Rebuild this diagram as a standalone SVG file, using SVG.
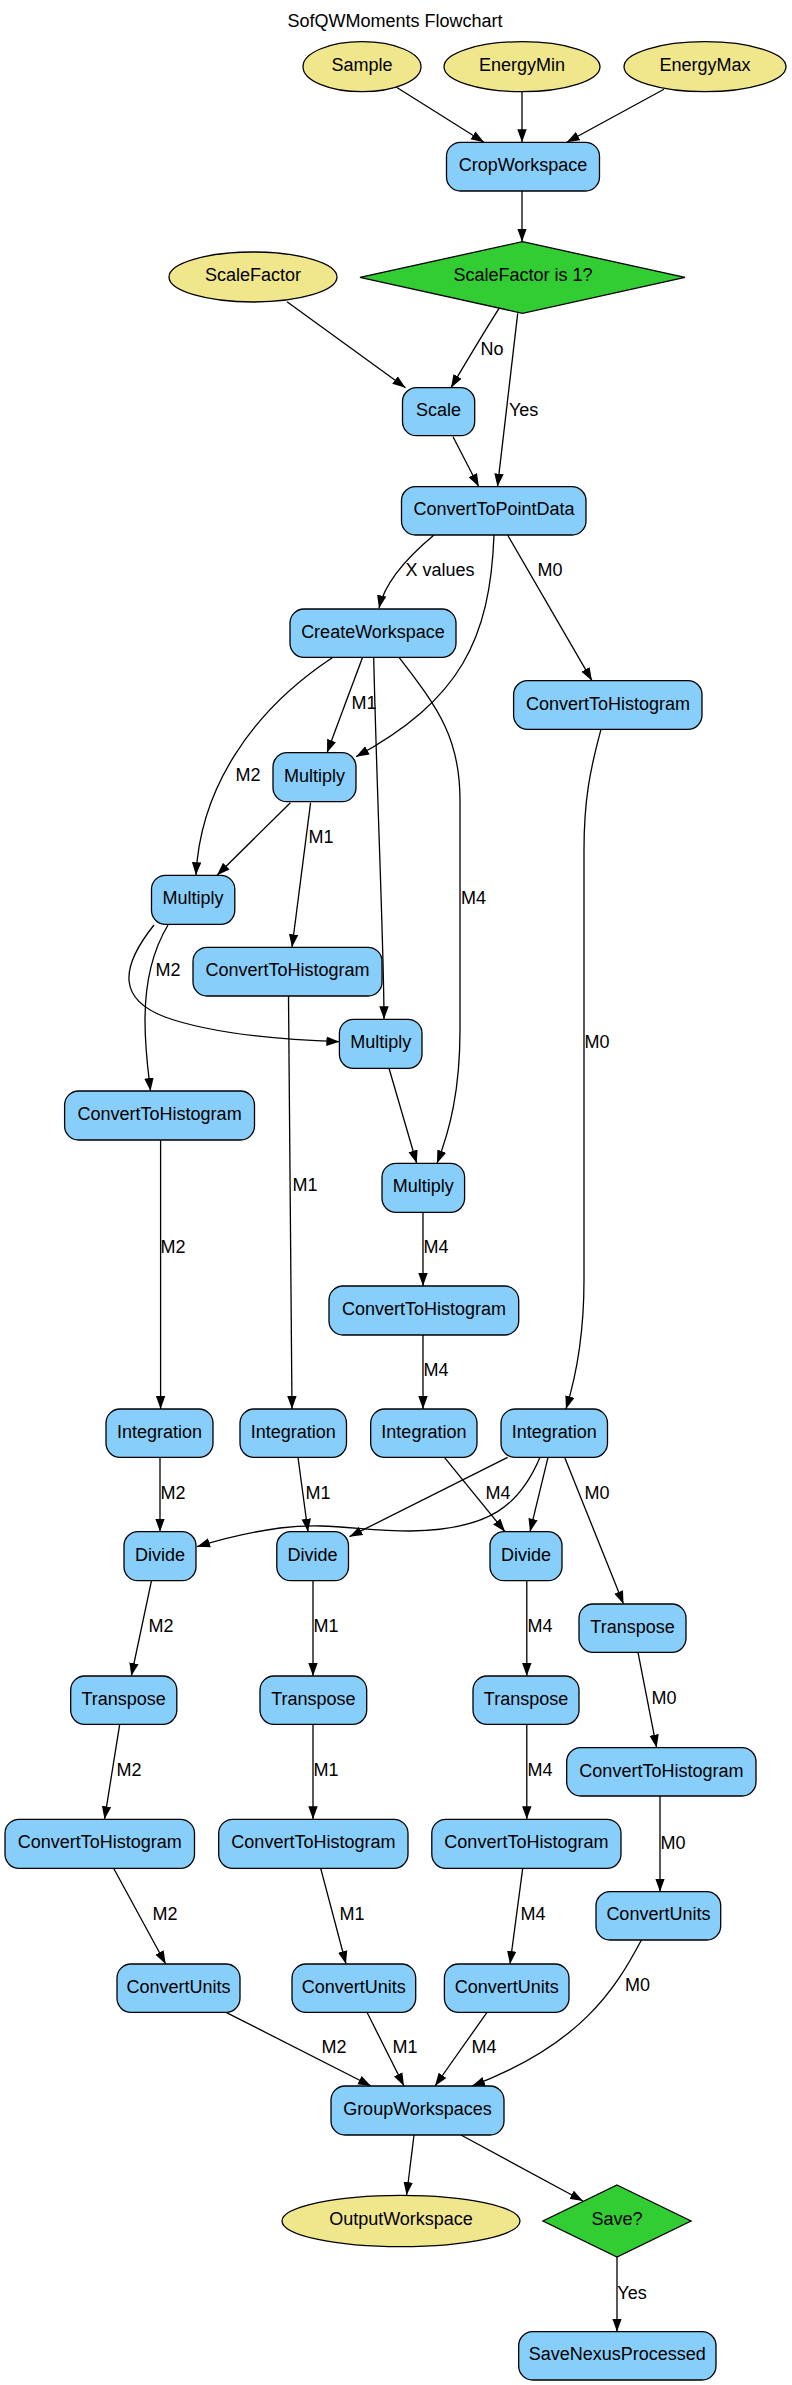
<svg xmlns="http://www.w3.org/2000/svg" width="792" height="2385" viewBox="0 0 792 2385">
<defs>
<marker id="ah" markerUnits="userSpaceOnUse" markerWidth="14" markerHeight="10" refX="13" refY="5" orient="auto"><path d="M0,0.3 L13,5 L0,9.7 Z" fill="#000"/></marker>
<style>
.box{fill:#87CEFA;stroke:#000;stroke-width:1.3}
.ell{fill:#F0E68C;stroke:#000;stroke-width:1.3}
.dia{fill:#32CD32;stroke:#000;stroke-width:1.3}
text{font-family:"Liberation Sans",Arial,sans-serif;font-size:18px;fill:#000}
.t{text-anchor:middle}
.l{text-anchor:middle}
.e{fill:none;stroke:#000;stroke-width:1.3;marker-end:url(#ah)}
</style>
</defs>
<rect width="792" height="2385" fill="#fff"/>
<text class="t" x="395" y="27">SofQWMoments Flowchart</text>

<g id="connectors">
<path class="e" d="M396.5,87.3 L484,142.3"/>
<path class="e" d="M522,92 L522,142.3"/>
<path class="e" d="M664,89.3 L566.7,142.3"/>
<path class="e" d="M522,191 L522,241.7"/>
<path class="e" d="M287,301.7 L405.5,387.7"/>
<path class="e" d="M499,308.3 Q476,345 451,387.7"/>
<path class="e" d="M517.7,313.3 L497.5,486.7"/>
<path class="e" d="M453,436.7 L478.8,486.7"/>
<path class="e" d="M434,535 C410,555 385,580 379,608.3"/>
<path class="e" d="M494,535 C490,640 460,700 356,756.7"/>
<path class="e" d="M507.6,535 L592,680.7"/>
<path class="e" d="M333,657.3 C250,712 200,790 196,875.3"/>
<path class="e" d="M362.6,657.3 L327,752.7"/>
<path class="e" d="M373.7,657.3 C377,800 384,950 384,1019.3"/>
<path class="e" d="M399,657.3 C440,710 460,740 460,800 L460,1030 C460,1090 450,1130 437,1163.3"/>
<path class="e" d="M601,729.3 C590,770 584,800 584,850 L584,1280 C584,1340 575,1380 566,1409"/>
<path class="e" d="M290.4,802.7 L217,875.3"/>
<path class="e" d="M310.6,802.7 L292,947.3"/>
<path class="e" d="M154,925 C118,970 120,1000 165,1017 C215,1035 290,1040 339.4,1041.7"/>
<path class="e" d="M168,925 C150,955 145,990 145,1020 C145,1050 148,1070 150.5,1091"/>
<path class="e" d="M288.5,996 L292,1409"/>
<path class="e" d="M389,1068.3 L416.7,1163.3"/>
<path class="e" d="M160.6,1140 L160.6,1409"/>
<path class="e" d="M423,1212.3 L423,1286"/>
<path class="e" d="M423,1335 L423,1409"/>
<path class="e" d="M160,1457.3 L160,1531.7"/>
<path class="e" d="M298,1457.3 L308,1531.7"/>
<path class="e" d="M444.4,1457.3 L505,1531.7"/>
<path class="e" d="M507.6,1457.3 L349.5,1536.7"/>
<path class="e" d="M540,1457.3 C520,1505 490,1530 410,1531 C360,1531 330,1522 280,1528 C250,1532 225,1538 197,1546.7"/>
<path class="e" d="M548,1457.3 L530,1531.7"/>
<path class="e" d="M564.6,1457.3 L623.5,1604"/>
<path class="e" d="M151.5,1580.7 L131.3,1676"/>
<path class="e" d="M313,1580.7 L313,1676"/>
<path class="e" d="M526.8,1580.7 L526.8,1676"/>
<path class="e" d="M638,1652.3 L656.6,1747.7"/>
<path class="e" d="M119.7,1724.3 L104.5,1819.3"/>
<path class="e" d="M313,1724.3 L313,1819.3"/>
<path class="e" d="M526.8,1724.3 L526.8,1819.3"/>
<path class="e" d="M660,1796 L660,1891.7"/>
<path class="e" d="M113.6,1868.3 L165.7,1964"/>
<path class="e" d="M320.7,1868.3 L346,1964"/>
<path class="e" d="M522.7,1868.3 L510,1964"/>
<path class="e" d="M641.4,1940 C615,1990 580,2045 472,2086"/>
<path class="e" d="M226,2012.3 L371,2086"/>
<path class="e" d="M367,2012.3 L404,2086"/>
<path class="e" d="M487,2012.3 L435,2086"/>
<path class="e" d="M414,2135 L406.6,2195"/>
<path class="e" d="M461,2135 L583,2201"/>
<path class="e" d="M617,2257 L617,2331.7"/>
<g id="edge-labels">
<text class="l" x="492" y="355">No</text>
<text x="509" y="416">Yes</text>
<text class="l" x="440" y="576">X values</text>
<text class="l" x="550" y="576">M0</text>
<text class="l" x="248" y="781">M2</text>
<text class="l" x="364" y="709">M1</text>
<text x="461" y="904">M4</text>
<text class="l" x="597" y="1048">M0</text>
<text class="l" x="321" y="843">M1</text>
<text class="l" x="168" y="976">M2</text>
<text class="l" x="305" y="1191">M1</text>
<text class="l" x="173" y="1253">M2</text>
<text class="l" x="436" y="1253">M4</text>
<text class="l" x="436" y="1376">M4</text>
<text class="l" x="173" y="1499">M2</text>
<text class="l" x="318" y="1499">M1</text>
<text class="l" x="498" y="1499">M4</text>
<text class="l" x="597" y="1499">M0</text>
<text class="l" x="161" y="1632">M2</text>
<text class="l" x="326" y="1632">M1</text>
<text class="l" x="540" y="1632">M4</text>
<text class="l" x="664" y="1704">M0</text>
<text class="l" x="129" y="1776">M2</text>
<text class="l" x="326" y="1776">M1</text>
<text class="l" x="540" y="1776">M4</text>
<text class="l" x="673" y="1849">M0</text>
<text class="l" x="165" y="1920">M2</text>
<text class="l" x="352" y="1920">M1</text>
<text class="l" x="533" y="1920">M4</text>
<text class="l" x="637.5" y="1991">M0</text>
<text class="l" x="334" y="2053">M2</text>
<text class="l" x="405" y="2053">M1</text>
<text class="l" x="484" y="2053">M4</text>
<text class="l" x="632" y="2299">Yes</text>
</g>
</g>

<g id="Sample"><ellipse class="ell" cx="362" cy="66.7" rx="59" ry="25"/><text class="t" x="362" y="71">Sample</text></g>
<g id="EnergyMin"><ellipse class="ell" cx="522" cy="66.7" rx="78" ry="25"/><text class="t" x="522" y="71">EnergyMin</text></g>
<g id="EnergyMax"><ellipse class="ell" cx="705" cy="66.7" rx="81" ry="25"/><text class="t" x="705" y="71">EnergyMax</text></g>
<g id="CropWorkspace"><rect class="box" x="446.5" y="142.3" width="153" height="48.7" rx="14"/><text class="t" x="523" y="171">CropWorkspace</text></g>
<g id="ScaleFactorIs1"><polygon class="dia" points="522.5,241.7 685,277.3 522.5,313.3 360,277.3"/><text class="t" x="523" y="281">ScaleFactor is 1?</text></g>
<g id="ScaleFactor"><ellipse class="ell" cx="253" cy="277" rx="84" ry="25"/><text class="t" x="253" y="281">ScaleFactor</text></g>
<g id="Scale"><rect class="box" x="402.5" y="387.7" width="72.2" height="48" rx="14"/><text class="t" x="438.6" y="416">Scale</text></g>
<g id="ConvertToPointData"><rect class="box" x="401.5" y="486.7" width="184.5" height="48.3" rx="14"/><text class="t" x="494" y="515">ConvertToPointData</text></g>
<g id="CreateWorkspace"><rect class="box" x="290" y="609" width="166" height="48.3" rx="14"/><text class="t" x="373" y="637.5">CreateWorkspace</text></g>
<g id="ConvertToHistogram_M0a"><rect class="box" x="513.6" y="680.7" width="188.4" height="48.6" rx="14"/><text class="t" x="608" y="709.5">ConvertToHistogram</text></g>
<g id="Multiply1"><rect class="box" x="273" y="752.7" width="83" height="49" rx="14"/><text class="t" x="314.5" y="781.5">Multiply</text></g>
<g id="Multiply2"><rect class="box" x="151.5" y="875.3" width="83.3" height="49" rx="14"/><text class="t" x="193" y="904">Multiply</text></g>
<g id="ConvertToHistogram_M1a"><rect class="box" x="193" y="947.3" width="189" height="48.7" rx="14"/><text class="t" x="287.5" y="976">ConvertToHistogram</text></g>
<g id="Multiply3"><rect class="box" x="339.4" y="1019.3" width="82.6" height="49" rx="14"/><text class="t" x="380.7" y="1048">Multiply</text></g>
<g id="ConvertToHistogram_M2a"><rect class="box" x="64.6" y="1091" width="189.9" height="49" rx="14"/><text class="t" x="159.6" y="1120">ConvertToHistogram</text></g>
<g id="Multiply4"><rect class="box" x="382" y="1163.3" width="82.6" height="49" rx="14"/><text class="t" x="423.3" y="1192">Multiply</text></g>
<g id="ConvertToHistogram_M4a"><rect class="box" x="329" y="1286" width="189.7" height="49" rx="14"/><text class="t" x="424" y="1315">ConvertToHistogram</text></g>
<g id="Integration1"><rect class="box" x="106" y="1409" width="107" height="48.3" rx="14"/><text class="t" x="159.5" y="1437.5">Integration</text></g>
<g id="Integration2"><rect class="box" x="240" y="1409" width="106.5" height="48.3" rx="14"/><text class="t" x="293.2" y="1437.5">Integration</text></g>
<g id="Integration3"><rect class="box" x="370.7" y="1409" width="106.3" height="48.3" rx="14"/><text class="t" x="423.9" y="1437.5">Integration</text></g>
<g id="Integration4"><rect class="box" x="501" y="1409" width="106.5" height="48.3" rx="14"/><text class="t" x="554.2" y="1437.5">Integration</text></g>
<g id="Divide1"><rect class="box" x="124" y="1531.7" width="72" height="49" rx="14"/><text class="t" x="160" y="1560.5">Divide</text></g>
<g id="Divide2"><rect class="box" x="276.8" y="1531.7" width="71.7" height="49" rx="14"/><text class="t" x="312.6" y="1560.5">Divide</text></g>
<g id="Divide3"><rect class="box" x="490" y="1531.7" width="72" height="49" rx="14"/><text class="t" x="526" y="1560.5">Divide</text></g>
<g id="Transpose4"><rect class="box" x="579" y="1604" width="107" height="48.3" rx="14"/><text class="t" x="632.5" y="1632.5">Transpose</text></g>
<g id="Transpose1"><rect class="box" x="70.7" y="1676" width="106.1" height="48.3" rx="14"/><text class="t" x="123.7" y="1704.5">Transpose</text></g>
<g id="Transpose2"><rect class="box" x="260" y="1676" width="106.7" height="48.3" rx="14"/><text class="t" x="313.4" y="1704.5">Transpose</text></g>
<g id="Transpose3"><rect class="box" x="473" y="1676" width="106" height="48.3" rx="14"/><text class="t" x="526" y="1704.5">Transpose</text></g>
<g id="ConvertToHistogram_M0b"><rect class="box" x="566.7" y="1747.7" width="189.3" height="48.3" rx="14"/><text class="t" x="661.4" y="1776.5">ConvertToHistogram</text></g>
<g id="ConvertToHistogram_M2b"><rect class="box" x="5" y="1819.3" width="189.5" height="49" rx="14"/><text class="t" x="99.7" y="1848">ConvertToHistogram</text></g>
<g id="ConvertToHistogram_M1b"><rect class="box" x="218.7" y="1819.3" width="189.3" height="49" rx="14"/><text class="t" x="313.4" y="1848">ConvertToHistogram</text></g>
<g id="ConvertToHistogram_M4b"><rect class="box" x="431.8" y="1819.3" width="189.2" height="49" rx="14"/><text class="t" x="526.4" y="1848">ConvertToHistogram</text></g>
<g id="ConvertUnits_M0"><rect class="box" x="596" y="1891.7" width="124.7" height="48.3" rx="14"/><text class="t" x="658.4" y="1920">ConvertUnits</text></g>
<g id="ConvertUnits_M2"><rect class="box" x="117" y="1964" width="123" height="48.3" rx="14"/><text class="t" x="178.5" y="1992.5">ConvertUnits</text></g>
<g id="ConvertUnits_M1"><rect class="box" x="292" y="1964" width="123.7" height="48.3" rx="14"/><text class="t" x="353.8" y="1992.5">ConvertUnits</text></g>
<g id="ConvertUnits_M4"><rect class="box" x="444.4" y="1964" width="124.6" height="48.3" rx="14"/><text class="t" x="506.7" y="1992.5">ConvertUnits</text></g>
<g id="GroupWorkspaces"><rect class="box" x="331" y="2086" width="173" height="49" rx="14"/><text class="t" x="417.5" y="2115">GroupWorkspaces</text></g>
<g id="OutputWorkspace"><ellipse class="ell" cx="401" cy="2221" rx="119" ry="25.7"/><text class="t" x="401" y="2225">OutputWorkspace</text></g>
<g id="Save"><polygon class="dia" points="617,2185 691,2221 617,2257 543,2221"/><text class="t" x="617" y="2225">Save?</text></g>
<g id="SaveNexusProcessed"><rect class="box" x="518.7" y="2331.7" width="197.3" height="48.3" rx="14"/><text class="t" x="617.3" y="2360">SaveNexusProcessed</text></g>
</svg>
